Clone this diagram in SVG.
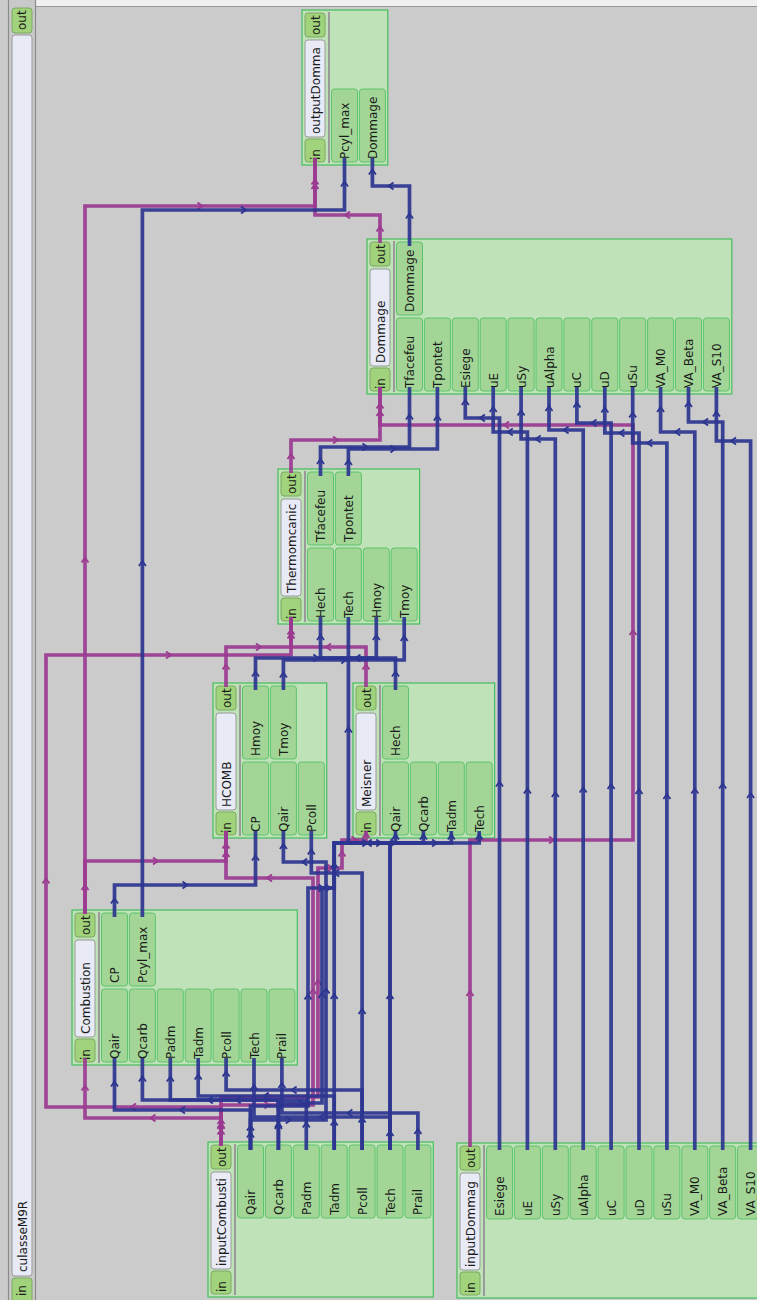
<svg xmlns="http://www.w3.org/2000/svg" width="757" height="1300" viewBox="0 0 757 1300">
<style>
.nb{fill:#bfe2b8;stroke:#45bf5c;stroke-width:1.2}
.pt{fill:#a3d696;stroke:#5cc46c;stroke-width:1}
.io{fill:#a0d37b;stroke:#7ea866;stroke-width:1}
.nm{fill:#e8eaf6;stroke:#9a9a9a;stroke-width:1}
.sep{stroke:#9a9a9a;stroke-width:2}
text{font-family:"DejaVu Sans","Liberation Sans",sans-serif;font-size:12px;fill:#1a1a1a}
.b{fill:none;stroke:#2c3590;stroke-width:3.7;stroke-opacity:0.92}
.m{fill:none;stroke:#9b3a91;stroke-width:3.7;stroke-opacity:0.92}
.ba{fill:none;stroke:#2c3590;stroke-width:1.8}
.ma{fill:none;stroke:#9b3a91;stroke-width:1.8}
</style>
<rect x="0" y="0" width="757" height="1300" fill="#cbcbcb"/>
<rect x="36" y="0" width="721" height="6" fill="#f0f0f0"/>
<line x1="36" y1="6.5" x2="757" y2="6.5" stroke="#9a9a9a" stroke-width="1"/>

<g id="culasseM9R">
<rect x="8.5" y="-2" width="27" height="1304" fill="#c9c9c9" stroke="#8a8a8a" stroke-width="1.2"/>
<rect class="io" x="12" y="8" width="20" height="25" rx="3"/>
<text transform="translate(26,30) rotate(-90)">out</text>
<rect class="nm" x="12" y="35" width="20" height="1241" rx="3"/>
<text transform="translate(27,1272) rotate(-90)">culasseM9R</text>
<rect class="io" x="12" y="1278" width="20" height="25" rx="3"/>
<text transform="translate(26,1296) rotate(-90)">in</text>
</g>

<g id="outputDommage">
<rect class="nb" x="302" y="10" width="85.8" height="155"/>
<rect class="io" x="305" y="13" width="20" height="24" rx="3"/>
<text transform="translate(319.5,35) rotate(-90)">out</text>
<rect class="nm" x="305" y="40" width="20" height="97" rx="3"/>
<text transform="translate(320,134) rotate(-90)">outputDomma</text>
<rect class="io" x="305" y="139" width="20" height="23" rx="3"/>
<text transform="translate(319.5,160) rotate(-90)">in</text>
<line class="sep" x1="329" y1="12" x2="329" y2="163"/>
<rect class="pt" x="331.5" y="89" width="26" height="73" rx="3"/>
<text transform="translate(349,159) rotate(-90)">Pcyl_max</text>
<rect class="pt" x="359.4" y="89" width="26" height="73" rx="3"/>
<text transform="translate(376.9,159) rotate(-90)">Dommage</text>
</g>

<g id="Dommage">
<rect class="nb" x="367" y="239" width="364.8" height="155"/>
<rect class="io" x="370" y="242" width="20" height="24" rx="3"/>
<text transform="translate(384.5,264) rotate(-90)">out</text>
<rect class="nm" x="370" y="269" width="20" height="97" rx="3"/>
<text transform="translate(385,363) rotate(-90)">Dommage</text>
<rect class="io" x="370" y="368" width="20" height="23" rx="3"/>
<text transform="translate(384.5,389) rotate(-90)">in</text>
<line class="sep" x1="394" y1="241" x2="394" y2="392"/>
<rect class="pt" x="396.5" y="242" width="26" height="73" rx="3"/>
<text transform="translate(414,312) rotate(-90)">Dommage</text>
<rect class="pt" x="396.5" y="318" width="26" height="73" rx="3"/>
<text transform="translate(414,388) rotate(-90)">Tfacefeu</text>
<rect class="pt" x="424.4" y="318" width="26" height="73" rx="3"/>
<text transform="translate(441.9,388) rotate(-90)">Tpontet</text>
<rect class="pt" x="452.3" y="318" width="26" height="73" rx="3"/>
<text transform="translate(469.8,388) rotate(-90)">Esiege</text>
<rect class="pt" x="480.2" y="318" width="26" height="73" rx="3"/>
<text transform="translate(497.7,388) rotate(-90)">uE</text>
<rect class="pt" x="508.1" y="318" width="26" height="73" rx="3"/>
<text transform="translate(525.6,388) rotate(-90)">uSy</text>
<rect class="pt" x="536" y="318" width="26" height="73" rx="3"/>
<text transform="translate(553.5,388) rotate(-90)">uAlpha</text>
<rect class="pt" x="563.9" y="318" width="26" height="73" rx="3"/>
<text transform="translate(581.4,388) rotate(-90)">uC</text>
<rect class="pt" x="591.8" y="318" width="26" height="73" rx="3"/>
<text transform="translate(609.3,388) rotate(-90)">uD</text>
<rect class="pt" x="619.7" y="318" width="26" height="73" rx="3"/>
<text transform="translate(637.2,388) rotate(-90)">uSu</text>
<rect class="pt" x="647.6" y="318" width="26" height="73" rx="3"/>
<text transform="translate(665.1,388) rotate(-90)">VA_M0</text>
<rect class="pt" x="675.5" y="318" width="26" height="73" rx="3"/>
<text transform="translate(693,388) rotate(-90)">VA_Beta</text>
<rect class="pt" x="703.4" y="318" width="26" height="73" rx="3"/>
<text transform="translate(720.9,388) rotate(-90)">VA_S10</text>
</g>

<g id="Thermomcanic">
<rect class="nb" x="278" y="469" width="141.6" height="155"/>
<rect class="io" x="281" y="472" width="20" height="24" rx="3"/>
<text transform="translate(295.5,494) rotate(-90)">out</text>
<rect class="nm" x="281" y="499" width="20" height="97" rx="3"/>
<text transform="translate(296,593) rotate(-90)">Thermomcanic</text>
<rect class="io" x="281" y="598" width="20" height="23" rx="3"/>
<text transform="translate(295.5,619) rotate(-90)">in</text>
<line class="sep" x1="305" y1="471" x2="305" y2="622"/>
<rect class="pt" x="307.5" y="472" width="26" height="73" rx="3"/>
<text transform="translate(325,542) rotate(-90)">Tfacefeu</text>
<rect class="pt" x="335.4" y="472" width="26" height="73" rx="3"/>
<text transform="translate(352.9,542) rotate(-90)">Tpontet</text>
<rect class="pt" x="307.5" y="548" width="26" height="73" rx="3"/>
<text transform="translate(325,618) rotate(-90)">Hech</text>
<rect class="pt" x="335.4" y="548" width="26" height="73" rx="3"/>
<text transform="translate(352.9,618) rotate(-90)">Tech</text>
<rect class="pt" x="363.3" y="548" width="26" height="73" rx="3"/>
<text transform="translate(380.8,618) rotate(-90)">Hmoy</text>
<rect class="pt" x="391.2" y="548" width="26" height="73" rx="3"/>
<text transform="translate(408.7,618) rotate(-90)">Tmoy</text>
</g>

<g id="HCOMB">
<rect class="nb" x="213" y="683" width="113.7" height="155"/>
<rect class="io" x="216" y="686" width="20" height="24" rx="3"/>
<text transform="translate(230.5,708) rotate(-90)">out</text>
<rect class="nm" x="216" y="713" width="20" height="97" rx="3"/>
<text transform="translate(231,807) rotate(-90)">HCOMB</text>
<rect class="io" x="216" y="812" width="20" height="23" rx="3"/>
<text transform="translate(230.5,833) rotate(-90)">in</text>
<line class="sep" x1="240" y1="685" x2="240" y2="836"/>
<rect class="pt" x="242.5" y="686" width="26" height="73" rx="3"/>
<text transform="translate(260,756) rotate(-90)">Hmoy</text>
<rect class="pt" x="270.4" y="686" width="26" height="73" rx="3"/>
<text transform="translate(287.9,756) rotate(-90)">Tmoy</text>
<rect class="pt" x="242.5" y="762" width="26" height="73" rx="3"/>
<text transform="translate(260,832) rotate(-90)">CP</text>
<rect class="pt" x="270.4" y="762" width="26" height="73" rx="3"/>
<text transform="translate(287.9,832) rotate(-90)">Qair</text>
<rect class="pt" x="298.3" y="762" width="26" height="73" rx="3"/>
<text transform="translate(315.8,832) rotate(-90)">Pcoll</text>
</g>

<g id="Meisner">
<rect class="nb" x="353" y="683" width="141.6" height="155"/>
<rect class="io" x="356" y="686" width="20" height="24" rx="3"/>
<text transform="translate(370.5,708) rotate(-90)">out</text>
<rect class="nm" x="356" y="713" width="20" height="97" rx="3"/>
<text transform="translate(371,807) rotate(-90)">Meisner</text>
<rect class="io" x="356" y="812" width="20" height="23" rx="3"/>
<text transform="translate(370.5,833) rotate(-90)">in</text>
<line class="sep" x1="380" y1="685" x2="380" y2="836"/>
<rect class="pt" x="382.5" y="686" width="26" height="73" rx="3"/>
<text transform="translate(400,756) rotate(-90)">Hech</text>
<rect class="pt" x="382.5" y="762" width="26" height="73" rx="3"/>
<text transform="translate(400,832) rotate(-90)">Qair</text>
<rect class="pt" x="410.4" y="762" width="26" height="73" rx="3"/>
<text transform="translate(427.9,832) rotate(-90)">Qcarb</text>
<rect class="pt" x="438.3" y="762" width="26" height="73" rx="3"/>
<text transform="translate(455.8,832) rotate(-90)">Tadm</text>
<rect class="pt" x="466.2" y="762" width="26" height="73" rx="3"/>
<text transform="translate(483.7,832) rotate(-90)">Tech</text>
</g>

<g id="Combustion">
<rect class="nb" x="72" y="910" width="225.3" height="155"/>
<rect class="io" x="75" y="913" width="20" height="24" rx="3"/>
<text transform="translate(89.5,935) rotate(-90)">out</text>
<rect class="nm" x="75" y="940" width="20" height="97" rx="3"/>
<text transform="translate(90,1034) rotate(-90)">Combustion</text>
<rect class="io" x="75" y="1039" width="20" height="23" rx="3"/>
<text transform="translate(89.5,1060) rotate(-90)">in</text>
<line class="sep" x1="99" y1="912" x2="99" y2="1063"/>
<rect class="pt" x="101.5" y="913" width="26" height="73" rx="3"/>
<text transform="translate(119,983) rotate(-90)">CP</text>
<rect class="pt" x="129.4" y="913" width="26" height="73" rx="3"/>
<text transform="translate(146.9,983) rotate(-90)">Pcyl_max</text>
<rect class="pt" x="101.5" y="989" width="26" height="73" rx="3"/>
<text transform="translate(119,1059) rotate(-90)">Qair</text>
<rect class="pt" x="129.4" y="989" width="26" height="73" rx="3"/>
<text transform="translate(146.9,1059) rotate(-90)">Qcarb</text>
<rect class="pt" x="157.3" y="989" width="26" height="73" rx="3"/>
<text transform="translate(174.8,1059) rotate(-90)">Padm</text>
<rect class="pt" x="185.2" y="989" width="26" height="73" rx="3"/>
<text transform="translate(202.7,1059) rotate(-90)">Tadm</text>
<rect class="pt" x="213.1" y="989" width="26" height="73" rx="3"/>
<text transform="translate(230.6,1059) rotate(-90)">Pcoll</text>
<rect class="pt" x="241" y="989" width="26" height="73" rx="3"/>
<text transform="translate(258.5,1059) rotate(-90)">Tech</text>
<rect class="pt" x="268.9" y="989" width="26" height="73" rx="3"/>
<text transform="translate(286.4,1059) rotate(-90)">Prail</text>
</g>

<g id="inputCombusti">
<rect class="nb" x="208" y="1142" width="225.3" height="155"/>
<rect class="io" x="211" y="1145" width="20" height="24" rx="3"/>
<text transform="translate(225.5,1167) rotate(-90)">out</text>
<rect class="nm" x="211" y="1172" width="20" height="97" rx="3"/>
<text transform="translate(226,1266) rotate(-90)">inputCombusti</text>
<rect class="io" x="211" y="1271" width="20" height="23" rx="3"/>
<text transform="translate(225.5,1292) rotate(-90)">in</text>
<line class="sep" x1="235" y1="1144" x2="235" y2="1295"/>
<rect class="pt" x="237.5" y="1145" width="26" height="73" rx="3"/>
<text transform="translate(255,1215) rotate(-90)">Qair</text>
<rect class="pt" x="265.4" y="1145" width="26" height="73" rx="3"/>
<text transform="translate(282.9,1215) rotate(-90)">Qcarb</text>
<rect class="pt" x="293.3" y="1145" width="26" height="73" rx="3"/>
<text transform="translate(310.8,1215) rotate(-90)">Padm</text>
<rect class="pt" x="321.2" y="1145" width="26" height="73" rx="3"/>
<text transform="translate(338.7,1215) rotate(-90)">Tadm</text>
<rect class="pt" x="349.1" y="1145" width="26" height="73" rx="3"/>
<text transform="translate(366.6,1215) rotate(-90)">Pcoll</text>
<rect class="pt" x="377" y="1145" width="26" height="73" rx="3"/>
<text transform="translate(394.5,1215) rotate(-90)">Tech</text>
<rect class="pt" x="404.9" y="1145" width="26" height="73" rx="3"/>
<text transform="translate(422.4,1215) rotate(-90)">Prail</text>
</g>

<g id="inputDommag">
<rect class="nb" x="457" y="1143" width="309" height="155"/>
<rect class="io" x="460" y="1146" width="20" height="24" rx="3"/>
<text transform="translate(474.5,1168) rotate(-90)">out</text>
<rect class="nm" x="460" y="1173" width="20" height="97" rx="3"/>
<text transform="translate(475,1267) rotate(-90)">inputDommag</text>
<rect class="io" x="460" y="1272" width="20" height="23" rx="3"/>
<text transform="translate(474.5,1293) rotate(-90)">in</text>
<line class="sep" x1="484" y1="1145" x2="484" y2="1296"/>
<rect class="pt" x="486.5" y="1146" width="26" height="73" rx="3"/>
<text transform="translate(504,1216) rotate(-90)">Esiege</text>
<rect class="pt" x="514.4" y="1146" width="26" height="73" rx="3"/>
<text transform="translate(531.9,1216) rotate(-90)">uE</text>
<rect class="pt" x="542.3" y="1146" width="26" height="73" rx="3"/>
<text transform="translate(559.8,1216) rotate(-90)">uSy</text>
<rect class="pt" x="570.2" y="1146" width="26" height="73" rx="3"/>
<text transform="translate(587.7,1216) rotate(-90)">uAlpha</text>
<rect class="pt" x="598.1" y="1146" width="26" height="73" rx="3"/>
<text transform="translate(615.6,1216) rotate(-90)">uC</text>
<rect class="pt" x="626" y="1146" width="26" height="73" rx="3"/>
<text transform="translate(643.5,1216) rotate(-90)">uD</text>
<rect class="pt" x="653.9" y="1146" width="26" height="73" rx="3"/>
<text transform="translate(671.4,1216) rotate(-90)">uSu</text>
<rect class="pt" x="681.8" y="1146" width="26" height="73" rx="3"/>
<text transform="translate(699.3,1216) rotate(-90)">VA_M0</text>
<rect class="pt" x="709.7" y="1146" width="26" height="73" rx="3"/>
<text transform="translate(727.2,1216) rotate(-90)">VA_Beta</text>
<rect class="pt" x="737.6" y="1146" width="26" height="73" rx="3"/>
<text transform="translate(755.1,1216) rotate(-90)">VA_S10</text>
</g>

<g id="connectors">
<g id="control">
<path class="m" d="M85,914 V206 H315 V158"/>
<path class="m" d="M85,914 V861 H226 V831"/>
<path class="m" d="M221,1146 V1118 H85 V1058"/>
<path class="m" d="M221,1146 V1107 H46 V655 H291 V617"/>
<path class="m" d="M221,1146 V1105 H313 V878 H226 V831"/>
<path class="m" d="M221,1146 V1097 H318 V868 H342 V840 H366 V831"/>
<path class="m" d="M226,687 V647 H291 V617"/>
<path class="m" d="M366,687 V647 H291 V617"/>
<path class="m" d="M291,473 V440 H380 V387"/>
<path class="m" d="M470,1147 V840 H633 V425 H380 V387"/>
<path class="m" d="M380,243 V215 H315 V158"/>
<path class="ma" d="M81.5,562.5L85,557.5L88.5,562.5 M197.5,202.5L202.5,206L197.5,209.5 M311.5,184.5L315,179.5L318.5,184.5
M81.5,890L85,885L88.5,890 M153,857.5L158,861L153,864.5 M222.5,848.5L226,843.5L229.5,848.5
M217.5,1134.5L221,1129.5L224.5,1134.5 M155.5,1114.5L150.5,1118L155.5,1121.5 M81.5,1090.5L85,1085.5L88.5,1090.5
M217.5,1129L221,1124L224.5,1129 M136,1103.5L131,1107L136,1110.5 M42.5,883.5L46,878.5L49.5,883.5 M166,651.5L171,655L166,658.5 M287.5,638.5L291,633.5L294.5,638.5
M217.5,1128L221,1123L224.5,1128 M264.5,1101.5L269.5,1105L264.5,1108.5 M309.5,994L313,989L316.5,994 M272,874.5L267,878L272,881.5 M222.5,857L226,852L229.5,857
M217.5,1124L221,1119L224.5,1124 M267,1093.5L272,1097L267,1100.5 M314.5,985L318,980L321.5,985 M327.5,864.5L332.5,868L327.5,871.5 M338.5,856.5L342,851.5L345.5,856.5 M351.5,836.5L356.5,840L351.5,843.5 M362.5,838L366,833L369.5,838
M222.5,669.5L226,664.5L229.5,669.5 M256,643.5L261,647L256,650.5 M287.5,634.5L291,629.5L294.5,634.5
M362.5,669.5L366,664.5L369.5,669.5 M331,643.5L326,647L331,650.5
M287.5,459L291,454L294.5,459 M333,436.5L338,440L333,443.5 M376.5,416L380,411L383.5,416
M466.5,996L470,991L473.5,996 M549,836.5L554,840L549,843.5 M629.5,635L633,630L636.5,635 M509,421.5L504,425L509,428.5 M376.5,408.5L380,403.5L383.5,408.5
M376.5,231.5L380,226.5L383.5,231.5 M350,211.5L345,215L350,218.5 M311.5,189L315,184L318.5,189"/>
</g>
<g id="data">
<path class="b" d="M142.4,917 V210 H344.5 V158"/>
<path class="b" d="M409.5,246 V186 H372.4 V158"/>
<path class="b" d="M320.5,476 V447 H409.5 V387"/>
<path class="b" d="M348.4,476 V449 H437.4 V387"/>
<path class="b" d="M499.5,1150 V418 H465.3 V387"/>
<path class="b" d="M527.4,1150 V432 H493.2 V387"/>
<path class="b" d="M555.3,1150 V439 H521.1 V387"/>
<path class="b" d="M583.2,1150 V430 H549 V387"/>
<path class="b" d="M611.1,1150 V423 H576.9 V387"/>
<path class="b" d="M639,1150 V433 H604.8 V387"/>
<path class="b" d="M666.9,1150 V443 H632.7 V387"/>
<path class="b" d="M694.8,1150 V432 H660.6 V387"/>
<path class="b" d="M722.7,1150 V422 H688.5 V387"/>
<path class="b" d="M750.6,1150 V441 H716.4 V387"/>
<path class="b" d="M395.5,690 V658 H320.5 V617"/>
<path class="b" d="M255.5,690 V658 H376.3 V617"/>
<path class="b" d="M283.4,690 V660 H404.2 V617"/>
<path class="b" d="M390,1150 V843 H348.4 V617"/>
<path class="b" d="M390,1150 V843 H479.2 V831"/>
<path class="b" d="M334.2,1150 V843 H451.3 V831"/>
<path class="b" d="M278.4,1150 V1103 H322 V888 H334.2 V843 H423.4 V831"/>
<path class="b" d="M250.5,1150 V1106 H308 V888 H334.2 V843 H395.5 V831"/>
<path class="b" d="M250.5,1150 V1120 H326 V862 H283.4 V831"/>
<path class="b" d="M362.1,1150 V873 H311.3 V831"/>
<path class="b" d="M114.5,917 V885 H255.5 V831"/>
<path class="b" d="M250.5,1150 V1110 H114.5 V1058"/>
<path class="b" d="M278.4,1150 V1100 H142.4 V1058"/>
<path class="b" d="M306.3,1150 V1100 H170.3 V1058"/>
<path class="b" d="M334.2,1150 V1096 H198.2 V1058"/>
<path class="b" d="M362.1,1150 V1090 H226.1 V1058"/>
<path class="b" d="M390,1150 V1117 H254 V1058"/>
<path class="b" d="M417.9,1150 V1113 H281.9 V1058"/>
<path class="ba" d="M138.9,566L142.4,561L145.9,566 M241,206.5L246,210L241,213.5 M341,186.5L344.5,181.5L348,186.5
M406,218.5L409.5,213.5L413,218.5 M393.5,182.5L388.5,186L393.5,189.5 M368.9,174.5L372.4,169.5L375.9,174.5
M317,464L320.5,459L324,464 M362.5,443.5L367.5,447L362.5,450.5 M406,419.5L409.5,414.5L413,419.5
M344.9,465L348.4,460L351.9,465 M390.4,445.5L395.4,449L390.4,452.5 M433.9,420.5L437.4,415.5L440.9,420.5
M496,786.5L499.5,781.5L503,786.5 M484.9,414.5L479.9,418L484.9,421.5 M461.8,405L465.3,400L468.8,405
M523.9,793.5L527.4,788.5L530.9,793.5 M512.8,428.5L507.8,432L512.8,435.5 M489.7,412L493.2,407L496.7,412
M551.8,797L555.3,792L558.8,797 M540.7,435.5L535.7,439L540.7,442.5 M517.6,415.5L521.1,410.5L524.6,415.5
M579.7,792.5L583.2,787.5L586.7,792.5 M568.6,426.5L563.6,430L568.6,433.5 M545.5,411L549,406L552.5,411
M607.6,789L611.1,784L614.6,789 M596.5,419.5L591.5,423L596.5,426.5 M573.4,407.5L576.9,402.5L580.4,407.5
M635.5,794L639,789L642.5,794 M624.4,429.5L619.4,433L624.4,436.5 M601.3,412.5L604.8,407.5L608.3,412.5
M663.4,799L666.9,794L670.4,799 M652.3,439.5L647.3,443L652.3,446.5 M629.2,417.5L632.7,412.5L636.2,417.5
M691.3,793.5L694.8,788.5L698.3,793.5 M680.2,428.5L675.2,432L680.2,435.5 M657.1,412L660.6,407L664.1,412
M719.2,788.5L722.7,783.5L726.2,788.5 M708.1,418.5L703.1,422L708.1,425.5 M685,407L688.5,402L692,407
M747.1,798L750.6,793L754.1,798 M736,437.5L731,441L736,444.5 M712.9,416.5L716.4,411.5L719.9,416.5
M392,676.5L395.5,671.5L399,676.5 M360.5,654.5L355.5,658L360.5,661.5 M317,640L320.5,635L324,640
M252,676.5L255.5,671.5L259,676.5 M313.4,654.5L318.4,658L313.4,661.5 M372.8,640L376.3,635L379.8,640
M279.9,677.5L283.4,672.5L286.9,677.5 M341.3,656.5L346.3,660L341.3,663.5 M400.7,641L404.2,636L407.7,641
M386.5,999L390,994L393.5,999 M371.7,839.5L366.7,843L371.7,846.5 M344.9,732.5L348.4,727.5L351.9,732.5
M432.1,839.5L437.1,843L432.1,846.5 M475.7,839.5L479.2,834.5L482.7,839.5
M330.7,999L334.2,994L337.7,999 M390.3,839.5L395.3,843L390.3,846.5 M447.8,839.5L451.3,834.5L454.8,839.5
M274.9,1129L278.4,1124L281.9,1129 M297.7,1099.5L302.7,1103L297.7,1106.5 M318.5,998L322,993L325.5,998 M325.6,884.5L330.6,888L325.6,891.5 M330.7,868L334.2,863L337.7,868 M376.3,839.5L381.3,843L376.3,846.5 M419.9,839.5L423.4,834.5L426.9,839.5
M247,1130.5L250.5,1125.5L254,1130.5 M276.75,1102.5L281.75,1106L276.75,1109.5 M304.5,999.5L308,994.5L311.5,999.5 M318.6,884.5L323.6,888L318.6,891.5 M362.35,839.5L367.35,843L362.35,846.5 M392,839.5L395.5,834.5L399,839.5
M247,1137.5L250.5,1132.5L254,1137.5 M285.75,1116.5L290.75,1120L285.75,1123.5 M322.5,993.5L326,988.5L329.5,993.5 M307.2,858.5L302.2,862L307.2,865.5 M279.9,849L283.4,844L286.9,849
M358.6,1014L362.1,1009L365.6,1014 M339.2,869.5L334.2,873L339.2,876.5 M307.8,854.5L311.3,849.5L314.8,854.5
M111,903.5L114.5,898.5L118,903.5 M182.5,881.5L187.5,885L182.5,888.5 M252,860.5L255.5,855.5L259,860.5
M185,1106.5L180,1110L185,1113.5 M111,1086.5L114.5,1081.5L118,1086.5
M274.9,1127.5L278.4,1122.5L281.9,1127.5 M212.9,1096.5L207.9,1100L212.9,1103.5 M138.9,1081.5L142.4,1076.5L145.9,1081.5
M302.8,1127.5L306.3,1122.5L309.8,1127.5 M240.8,1096.5L235.8,1100L240.8,1103.5 M166.8,1081.5L170.3,1076.5L173.8,1081.5
M330.7,1125.5L334.2,1120.5L337.7,1125.5 M268.7,1092.5L263.7,1096L268.7,1099.5 M194.7,1079.5L198.2,1074.5L201.7,1079.5
M358.6,1122.5L362.1,1117.5L365.6,1122.5 M296.6,1086.5L291.6,1090L296.6,1093.5 M222.6,1076.5L226.1,1071.5L229.6,1076.5
M386.5,1136L390,1131L393.5,1136 M324.5,1113.5L319.5,1117L324.5,1120.5 M250.5,1090L254,1085L257.5,1090
M414.4,1134L417.9,1129L421.4,1134 M352.4,1109.5L347.4,1113L352.4,1116.5 M278.4,1088L281.9,1083L285.4,1088"/>
</g>
</g>
</svg>
